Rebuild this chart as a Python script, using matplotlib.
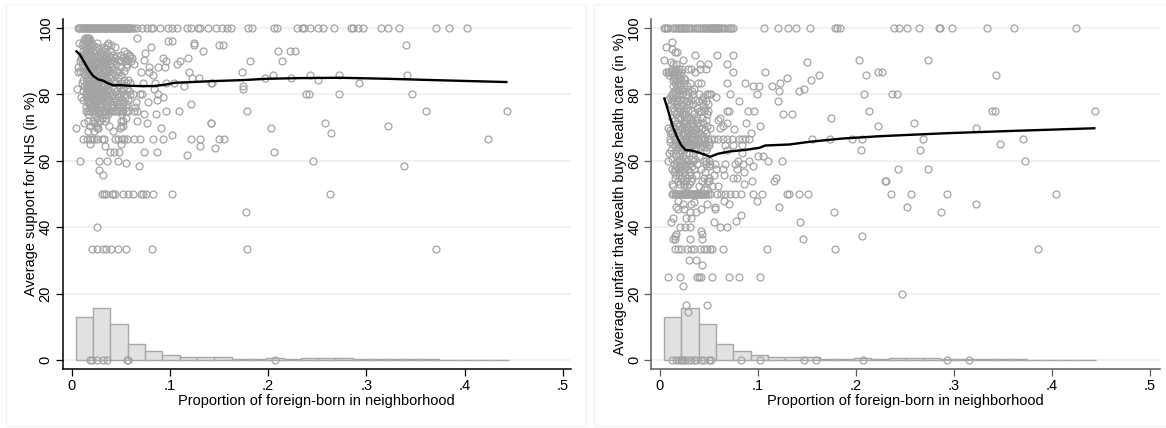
import matplotlib
matplotlib.use("Agg")
import matplotlib.pyplot as plt
from matplotlib.patches import Rectangle

plt.rcParams['font.family'] = ['Liberation Sans', 'DejaVu Sans']

# ---------- shared histogram ----------
hist_edges_start = 0.0043
hist_width = 0.01762
hist_heights = [12.8, 15.8, 10.8, 4.9, 2.6, 1.6, 1.0, 0.8, 0.8, 0.4, 0.3, 0.6, 0.4,
                0.5, 0.6, 0.5, 0.3, 0.3, 0.15, 0.2, 0.2, 0.1, 0.1, 0.1, 0.1]

# ---------- left panel ----------
left_levels = [
 (100, [.007,.008,.009,.0105,.012,.013,.014,.015,.016,.017,.018,.019,.02,.021,.022,.023,.024,.025,.026,.027,.028,.029,.03,.031,.032,.033,.034,.035,.036,.037,.038,.039,.04,.041,.042,.043,.044,.045,.046,.047,.048,.049,.05,.051,.052,.053,.054,.055,.056,.057,.058,.059,.06,.062,.064,.067,.072,.077,.081,.083,.09,.098,.102,.107,.1175,.1216,.1287,.1307,.1389,.147,.153,.158,.162,.18,.1836,.206,.209,.2294,.2345,.2365,.2426,.2507,.2558,.267,.2843,.2864,.2914,.2965,.3149,.322,.3332,.3708,.384,.4023]),
 (97.1, [.014,.016,.017,.018,.067]),
 (96.5, [.013,.016,.019]),
 (96, [.015,.0165,.018,.0985,.102]),
 (95.6, [.0075,.012,.016,.02,.0255,.037,.1246]),
 (95, [.0105,.014,.018,.022,.036,.04,.125,.34,.1504,.1538]),
 (94.4, [.0135,.017,.0205,.026,.033,.044,.081]),
 (93.8, [.015,.019,.024,.028,.034]),
 (93.2, [.012,.016,.022,.026,.031,.04,.053,.134,.2097,.2223,.2271]),
 (92.5, [.014,.018,.024,.029,.036,.056,.0748]),
 (92, [.011,.016,.02,.033,.042,.05,.059]),
 (91.5, [.0135,.018,.027,.031,.038,.046,.06]),
 (91, [.01,.015,.021,.025,.029,.035,.044,.052,.055,.062,.0934,.1182]),
 (90.4, [.012,.017,.023,.032,.04,.048,.057,.0741]),
 (90, [.0085,.014,.019,.026,.03,.037,.043,.05,.054,.061,.0958,.1104,.1816,.2138]),
 (89.5, [.015,.02,.024,.027,.031,.035,.041]),
 (89, [.011,.016,.022,.028,.034,.039,.045,.056,.064,.1077]),
 (88.3, [.0065,.013,.018,.024,.03,.036,.041,.049,.055,.0884,.0789,.095]),
 (87.7, [.016,.019,.022,.027,.032,.035]),
 (87, [.009,.015,.02,.026,.033,.038,.046,.053]),
 (86.6, [.007,.012,.017,.023,.028,.031,.037,.042,.048,.0704,.0789,.12,.1735]),
 (85.7, [.014,.019,.025,.03,.035,.04,.044,.05,.0826,.2054,.2426,.2721,.3413]),
 (85, [.016,.021,.027,.033,.039,.047,.1222,.1297,.1969,.2233]),
 (84.6, [.018,.022,.026,.031,.035]),
 (84.2, [.012,.018,.023,.029,.036,.043,.053,.058,.2509]),
 (83.4, [.0105,.015,.02,.025,.028,.032,.038,.045,.05,.055,.06,.0731,.085,.0958,.1046,.1416,.143,.2924]),
 (82.8, [.017,.021,.024,.03,.033,.037]),
 (82.4, [.013,.018,.022,.027,.034,.041,.048,.1148,.1745]),
 (81.6, [.0055,.016,.02,.024,.03,.036,.043,.052,.056,.084,.1748]),
 (81, [.012,.017,.022,.028,.033,.039,.046,.051,.059]),
 (80.5, [.015,.019,.023,.026,.03,.034]),
 (80, [.0145,.018,.021,.025,.028,.032,.035,.038,.042,.046,.05,.054,.06,.063,.0697,.072,.0877,.2386,.2413,.2721,.3464]),
 (79.5, [.016,.02,.023,.027,.031,.036]),
 (79.1, [.01,.0145,.019,.024,.029,.034,.04,.047,.054,.0934]),
 (78.4, [.012,.017,.022,.027,.031,.037,.044,.05,.057,.0867]),
 (77.8, [.016,.021,.026,.033,.039,.043,.048,.053,.0775,.0656]),
 (77.3, [.019,.025,.03,.034]),
 (77, [.018,.023,.028,.035,.041,.046,.052,.056,.1213]),
 (76.2, [.015,.02,.025,.03,.036,.042,.049,.055,.0646]),
 (75, [.0145,.017,.019,.021,.023,.025,.027,.029,.031,.033,.035,.038,.04,.042,.044,.046,.048,.05,.052,.055,.058,.0635,.067,.0965,.1097,.1789,.3606,.443]),
 (74, [.017,.024,.028,.034,.037,.051,.0741,.086]),
 (73, [.026,.031,.035,.055]),
 (72, [.017,.022,.029,.0345,.05,.052,.0667]),
 (71.5, [.013,.023,.026,.0772,.1416,.1419,.2579]),
 (70.5, [.019,.0245,.038,.05,.052,.322]),
 (70, [.0043,.0255,.027,.049,.0908,.2027]),
 (69, [.017,.023,.042]),
 (68.4, [.264]),
 (67.7, [.1023]),
 (66.7, [.012,.0162,.0188,.0205,.0229,.0256,.0307,.0331,.0443,.0477,.051,.0534,.0568,.064,.0697,.0826,.0928,.1219,.1307,.15,.155,.4237]),
 (65.1, [.0188,.05]),
 (64.4, [.0341,.1307]),
 (63.7, [.1463]),
 (62.5, [.0392,.0432,.0487,.0738,.0867,.2064]),
 (61.6, [.1172]),
 (60, [.0087,.0277,.0365,.0473,.2457]),
 (59.3, [.0554]),
 (58.4, [.0683,.3382]),
 (57.2, [.0277]),
 (55.6, [.0324]),
 (50, [.0307,.0331,.0351,.0409,.0426,.0443,.0527,.0578,.0629,.0704,.0731,.0758,.0829,.1023,.263]),
 (44.5, [.1775]),
 (40, [.026]),
 (33.3, [.0212,.0256,.0324,.0351,.0402,.0477,.0558,.0815,.1786,.371]),
 (0, [.0188,.0205,.0263,.0324,.0358,.0568,.0578,.2074]),
]
left_curve_x = [.0042,.0087,.0137,.0181,.0222,.0273,.0324,.0375,.0426,.0494,.0578,.0697,.0833,.0951,.1053,.1222,.1443,.1748,.1986,.2325,.2731,.3206,.3681,.4437]
left_curve_y = [93.2,91.9,89.3,87.1,85.5,84.5,84.1,83.3,82.7,82.8,82.6,82.5,82.5,82.9,83.5,83.7,84,84.3,84.7,84.9,85,84.7,84.3,83.7]

# ---------- right panel ----------
right_levels = [
 (100, [.004,.0055,.007,.0085,.012,.014,.016,.018,.0195,.021,.0225,.024,.025,.027,.029,.031,.033,.036,.038,.04,.042,.044,.046,.047,.049,.051,.052,.053,.054,.055,.056,.057,.058,.059,.06,.062,.064,.066,.069,.071,.072,.074,.1065,.1207,.1306,.139,.1533,.1787,.1811,.1835,.2385,.2436,.2525,.264,.2847,.2861,.2977,.334,.3616,.4244]),
 (95.9, [.0122]),
 (94.2, [.0064]),
 (93.6, [.0122]),
 (92.7, [.0149,.0176]),
 (91.9, [.0353,.058,.0746]),
 (90.3, [.0037,.0234,.2028,.2732]),
 (89.6, [.0109,.1502]),
 (89, [.0132,.016,.041,.0488,.0682]),
 (87.5, [.012,.016,.019,.022,.0285,.0312,.041,.0471]),
 (86.6, [.0065,.008,.0095,.011,.0145,.018,.021,.0353,.0749,.1075,.2221,.2269]),
 (85.8, [.009,.013,.0155,.017,.02,.1618,.2099,.3425]),
 (85, [.014,.019,.024,.1299]),
 (84.2, [.013,.016,.021,.026,.154]),
 (83.3, [.015,.018,.024,.031,.039,.042,.0682,.0868,.1221]),
 (82.5, [.0135,.017,.02,.028,.0946,.1014,.1143]),
 (81.6, [.016,.02,.025,.035,.1465]),
 (81, [.014,.018,.023,.029,.033,.1217,.1414]),
 (80, [.0125,.0155,.019,.022,.027,.034,.04,.048,.05,.052,.0716,.0987,.2079,.2372,.2419]),
 (79.2, [.01,.013,.017,.029,.044,.0573]),
 (78.4, [.0085,.012,.016,.02,.025,.032,.036,.043]),
 (77.9, [.0145,.018,.028,.04,.047,.0804,.12]),
 (77, [.011,.016,.023,.03,.034,.044,.049]),
 (76, [.013,.018,.021,.027,.038,.046]),
 (75, [.014,.017,.02,.024,.029,.033,.04,.042,.045,.049,.0682,.0709,.0902,.0963,.2133,.3391,.3415,.4441]),
 (74, [.016,.022,.026,.035,.048,.1251,.1343]),
 (73, [.012,.018,.021,.028,.031,.038,.043,.0617,.1746]),
 (72.4, [.015,.024,.027,.033,.036,.047,.059]),
 (71.5, [.017,.023,.026,.032,.038,.044,.0682,.0882,.2592]),
 (70.6, [.013,.019,.028,.034,.04,.048,.0641,.1024,.2228]),
 (70, [.0081,.0155,.022,.025,.03,.037,.043,.0515,.0614,.3228]),
 (69.5, [.0753]),
 (69.2, [.0105,.02,.027,.032,.036,.046]),
 (68.4, [.0098,.017,.024,.029,.034,.039,.047,.0933]),
 (68, [.012,.022,.026,.031,.037,.042]),
 (67.5, [.014,.019,.028,.033,.044]),
 (66.7, [.0098,.0149,.02,.0251,.0278,.0302,.0336,.0363,.0387,.042,.0454,.0488,.0522,.0556,.059,.0641,.0682,.0736,.0804,.0838,.0872,.0905,.1556,.1736,.1963,.2065,.2684,.3707]),
 (65.8, [.01,.016,.021,.027,.03,.035,.04,.05]),
 (65, [.0135,.018,.024,.032,.038,.046,.3473]),
 (64.6, [.015,.02,.022,.029,.034,.043,.05,.0668,.0743,.0838]),
 (64, [.018,.026,.031,.037,.041,.045,.048]),
 (63.2, [.011,.016,.021,.024,.035,.047,.0682,.2055,.265]),
 (62.2, [.0095,.013,.019,.027,.03,.034,.0834]),
 (61.5, [.016,.023,.04,.0997,.1055]),
 (60.5, [.012,.02,.026,.032,.036]),
 (60, [.0085,.017,.022,.028,.034,.0454,.047,.0505,.0793,.0905,.1105,.1248,.3721]),
 (59, [.014,.024,.03,.038,.0471,.051,.0566,.0668,.0766,.0844]),
 (58.4, [.016,.02,.027,.033,.05,.0953]),
 (57.4, [.0125,.015,.018,.022,.025,.029,.035,.042,.0573,.0641,.0783,.2433,.2735]),
 (56.6, [.014,.02,.024,.031,.046,.0861]),
 (55.7, [.016,.019,.026,.03,.037,.0556,.0654]),
 (54.8, [.015,.021,.028,.033,.045,.0498,.0743,.0783,.1184]),
 (54, [.018,.023,.027,.032,.043,.0481,.05,.0936,.1167,.2296,.2304]),
 (53, [.0125,.02,.025,.03,.0858]),
 (52.4, [.013,.024,.028,.0395,.0532,.059]),
 (51.5, [.045,.0475]),
 (50, [.012,.0135,.015,.016,.0175,.019,.02,.0215,.023,.024,.025,.026,.027,.028,.029,.03,.031,.032,.033,.034,.035,.036,.037,.038,.039,.04,.041,.042,.043,.044,.045,.046,.047,.049,.051,.0578,.0619,.0663,.0714,.0765,.0826,.0953,.1041,.13,.1312,.1414,.1509,.2355,.2559,.2932,.4037]),
 (48, [.0183,.0987,.0651]),
 (47, [.0234,.0319,.0478,.0709,.3228]),
 (47.6, [.0343]),
 (46.1, [.0159,.0566,.1214,.2518]),
 (45.4, [.0183,.0241,.0414,.0566]),
 (44.5, [.0302,.0363,.1773,.2864]),
 (43.7, [.0827]),
 (42.9, [.0132,.0268,.0319]),
 (42, [.0777]),
 (41.6, [.0109,.0556,.1428]),
 (40, [.0207,.0251,.0309,.061,.0688]),
 (38.8, [.042]),
 (38, [.0166,.0431]),
 (37.4, [.0149,.2065]),
 (36.3, [.0132,.0149,.0302,.0431,.1461]),
 (33.3, [.0149,.0183,.0217,.0275,.0319,.0343,.0404,.0454,.0478,.0512,.0532,.0641,.1092,.1787,.3857]),
 (30, [.0295,.0363]),
 (28.5, [.0431]),
 (25, [.0078,.0207,.0376,.0397,.042,.0532,.0709,.081,.1024]),
 (22.2, [.0237]),
 (20, [.247]),
 (16.7, [.0261,.0482]),
 (14.3, [.0281]),
 (0, [.0125,.0159,.0193,.0217,.0234,.0251,.0285,.0319,.0343,.0363,.0414,.0454,.0498,.0522,.0831,.1017,.1468,.1587,.2075,.2929,.3153]),
]
right_curve_x = [.0041,.0081,.0125,.0173,.0217,.0261,.0319,.0404,.0512,.059,.0709,.0878,.1014,.1075,.1319,.1523,.1862,.2243,.2922,.36,.4444]
right_curve_y = [79.1,75.3,70.8,67.2,64.7,63.2,63.1,62.4,61.2,62.1,62.8,63.3,63.9,64.6,64.9,65.7,66.7,67.4,68.3,69,69.8]

# ---------- labels ----------
x_ticks = [0, .1, .2, .3, .4, .5]
x_tick_labels = ['0', '.1', '.2', '.3', '.4', '.5']
y_ticks = [0, 20, 40, 60, 80, 100]
x_label = 'Proportion of foreign-born in neighborhood'
left_ylabel = 'Average support for NHS (in %)'
right_ylabel = 'Average unfair that wealth buys health care (in %)'

W, H = 1166, 428
fig = plt.figure(figsize=(W/100, H/100), dpi=100, facecolor='white')

def panel(x0, y0, x1, y1):
    fig.add_artist(Rectangle((x0/W, 1-y1/H), (x1-x0)/W, (y1-y0)/H, transform=fig.transFigure,
                             fc='white', ec='#f3f3f3', lw=1.0, zorder=-5))
panel(5.5, 3.5, 586, 426)
panel(593.5, 3.5, 1170, 426)

def draw(px, levels, curve_x, curve_y, ylabel, spine_col, xlim):
    ax = fig.add_axes([px[0]/W, 1-369/H, (px[1]-px[0])/W, (369-19)/H], zorder=2)
    ax.set_facecolor('none')
    ax.set_xlim(*xlim)
    ax.set_ylim(-2.72, 102.7)
    for s in ('top', 'right'):
        ax.spines[s].set_visible(False)
    for s in ('left', 'bottom'):
        ax.spines[s].set_color(spine_col)
        ax.spines[s].set_linewidth(1.1)
    ax.yaxis.grid(True, color='#eeeeee', lw=1.1, zorder=0)
    ax.set_axisbelow(True)
    lefts = [hist_edges_start + i*hist_width for i in range(len(hist_heights))]
    ax.bar(lefts, hist_heights, width=hist_width, align='edge', fc='#e1e1e1', ec='#a8a8a8', lw=1.0, zorder=2)
    xs, ys = [], []
    for y, row in levels:
        xs += row
        ys += [y]*len(row)
    ax.plot(xs, ys, ls='none', marker='o', ms=5.0, mfc='none', mec='#a3a3a3', mew=0.9, zorder=3, clip_on=False)
    ax.plot(curve_x, curve_y, color='black', lw=1.7, zorder=4, solid_capstyle='butt')
    ax.set_xticks(x_ticks, x_tick_labels)
    ax.set_yticks(y_ticks, [str(t) for t in y_ticks])
    ax.tick_params(axis='x', length=5, width=0.9, color=spine_col, labelsize=10.5, pad=2.2)
    ax.tick_params(axis='y', length=5, width=0.9, color=spine_col, labelsize=10.5, pad=2.2)
    for t in ax.get_yticklabels():
        t.set_rotation(90)
        t.set_va('center')
    ax.set_xlabel(x_label, fontsize=10.5, labelpad=0.5)
    ax.set_ylabel(ylabel, fontsize=10.45, labelpad=0)
    return ax

draw((62.5, 571), left_levels, left_curve_x, left_curve_y, left_ylabel, 'black', (-.00916, .5083))
draw((651.3, 1160), right_levels, right_curve_x, right_curve_y, right_ylabel, '#5c5c5c', (-.00887, .5102))

fig.savefig('out.png', dpi=100, facecolor='white')
